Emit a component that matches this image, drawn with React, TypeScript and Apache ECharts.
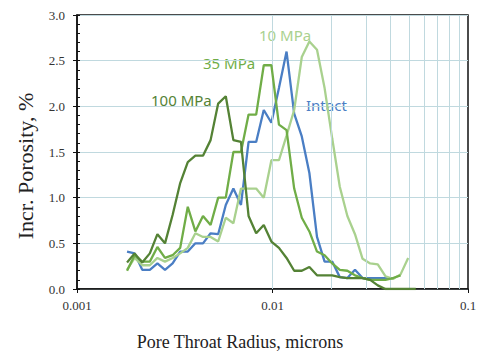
import React, { useEffect, useRef } from "react";
import * as echarts from "echarts";

// Pore throat radius bins (microns)
const radii = [
  0.001803, 0.001971, 0.002156, 0.002358, 0.002578, 0.002819, 0.003083, 0.003372,
  0.003687, 0.004032, 0.00441, 0.004823, 0.005274, 0.005768, 0.006308, 0.006898,
  0.007544, 0.00825, 0.009023, 0.009869, 0.01079, 0.0118, 0.01291, 0.01412,
  0.01544, 0.01689, 0.01847, 0.0202, 0.02209, 0.02415, 0.02642, 0.02889,
  0.0316, 0.03455, 0.03779, 0.04133, 0.04519, 0.04943, 0.05405,
];

const intact = [
  0.41, 0.39, 0.21, 0.21, 0.28, 0.21, 0.28, 0.41, 0.41, 0.5, 0.5, 0.61, 0.6,
  0.92, 1.1, 0.92, 1.61, 1.61, 1.96, 1.82, 2.2, 2.6, 1.92, 1.67, 1.27, 0.57,
  0.3, 0.3, 0.13, 0.12, 0.21, 0.12, 0.12, 0.12, 0.12, 0.12,
];

const mpa10 = [
  0.21, 0.34, 0.26, 0.26, 0.34, 0.3, 0.34, 0.39, 0.45, 0.61, 0.57, 0.57, 0.52,
  0.78, 0.72, 1.1, 1.1, 1.1, 1.0, 1.41, 1.41, 1.68, 1.96, 2.54, 2.71, 2.62,
  2.2, 1.65, 1.12, 0.8, 0.6, 0.33, 0.28, 0.27, 0.14, 0.11, 0.16, 0.34,
];

const mpa35 = [
  0.2, 0.37, 0.3, 0.3, 0.46, 0.34, 0.37, 0.45, 0.9, 0.63, 0.8, 0.7, 1.0, 1.0,
  1.5, 1.5, 1.91, 1.91, 2.45, 2.45, 1.8, 1.74, 1.1, 0.78, 0.63, 0.41, 0.37,
  0.28, 0.21, 0.2, 0.15, 0.12, 0.1, 0.1, 0.1, 0.12, 0.15,
];

const mpa100 = [
  0.29, 0.39, 0.29, 0.39, 0.6, 0.5, 0.81, 1.16, 1.39, 1.46, 1.46, 1.63, 2.03,
  2.11, 1.63, 1.61, 0.8, 0.61, 0.7, 0.52, 0.45, 0.34, 0.2, 0.2, 0.24, 0.15,
  0.15, 0.15, 0.13, 0.12, 0.12, 0.12, 0.1, 0.04, 0, 0, 0, 0, 0,
];

const seriesNames = ["Intact", "10 MPa", "35 MPa", "100 MPa"];
const seriesColors = ["#4a7ec4", "#a9d18e", "#70ad47", "#548235"];
const seriesValues = [intact, mpa10, mpa35, mpa100];

const xTickLabels = ["0.001", "0.01", "0.1"];
const xGridValues = [
  0.002, 0.003, 0.004, 0.005, 0.006, 0.007, 0.008, 0.009, 0.01,
  0.02, 0.03, 0.04, 0.05, 0.06, 0.07, 0.08, 0.09,
];

export default function App() {
  const ref = useRef<HTMLDivElement>(null);
  useEffect(() => {
    if (!ref.current) return;
    const chart = echarts.init(ref.current, null, { renderer: "svg" });
    const gridColor = "#c0d9df";
    const serif = "Liberation Serif";
    const sans = "Noto Sans";
    chart.setOption({
      animation: false,
      backgroundColor: "#ffffff",
      grid: {
        left: 77,
        right: 15,
        top: 15,
        bottom: 63,
        show: true,
        borderColor: "#111",
        borderWidth: 1.5,
      },
      xAxis: {
        type: "log",
        logBase: 10,
        min: 0.001,
        max: 0.1,
        axisLine: { show: true, lineStyle: { color: "#111", width: 1.5 } },
        axisTick: { show: true, length: 4, lineStyle: { color: "#111" } },
        splitLine: { show: false },
        axisLabel: {
          fontFamily: serif,
          fontSize: 13,
          color: "#333",
          margin: 10,
          formatter: (v: number) => xTickLabels[Math.round(Math.log10(v)) + 3],
        },
      },
      yAxis: [
        {
          type: "value",
          min: 0,
          max: 3,
          interval: 0.5,
          axisLine: { show: true, lineStyle: { color: "#111", width: 1.5 } },
          axisTick: { show: true, length: 4, lineStyle: { color: "#111" } },
          splitLine: { show: true, lineStyle: { color: gridColor, width: 1 } },
          axisLabel: {
            fontFamily: serif,
            fontSize: 13,
            color: "#333",
            margin: 12,
            formatter: (v: number) => v.toFixed(1),
          },
        },
        {
          type: "value",
          min: 0,
          max: 3,
          interval: 0.1,
          position: "left",
          axisLine: { show: false },
          axisTick: { show: true, inside: true, length: 3, lineStyle: { color: "#111" } },
          splitLine: { show: false },
          axisLabel: { show: false },
        },
      ],
      series: [
        {
          name: "grid",
          type: "line",
          data: [],
          z: 1,
          silent: true,
          markLine: {
            silent: true,
            symbol: "none",
            label: { show: false },
            lineStyle: { color: gridColor, width: 1, type: "solid" },
            data: xGridValues.map((v) => ({ xAxis: v })),
          },
        },
        ...seriesNames.map((name, si) => ({
          name,
          type: "line",
          z: 3 + si,
          showSymbol: false,
          symbol: "none",
          lineStyle: { color: seriesColors[si], width: 2.3 },
          itemStyle: { color: seriesColors[si] },
          data: seriesValues[si].map((y, i) => [radii[i], y]),
        })),
      ],
      graphic: [
        {
          type: "text",
          x: 151,
          y: 100,
          style: {
            text: "100 MPa",
            fill: seriesColors[3],
            font: `15px '${sans}'`,
            textVerticalAlign: "middle",
          },
        },
        {
          type: "text",
          x: 203,
          y: 63,
          style: {
            text: "35 MPa",
            fill: seriesColors[2],
            font: `15px '${sans}'`,
            textVerticalAlign: "middle",
          },
        },
        {
          type: "text",
          x: 259,
          y: 35,
          style: {
            text: "10 MPa",
            fill: seriesColors[1],
            font: `15px '${sans}'`,
            textVerticalAlign: "middle",
          },
        },
        {
          type: "text",
          x: 306,
          y: 105,
          style: {
            text: "Intact",
            fill: seriesColors[0],
            font: `15px '${sans}'`,
            textVerticalAlign: "middle",
          },
        },
        {
          type: "text",
          x: 25,
          y: 166,
          rotation: Math.PI / 2,
          style: {
            text: "Incr. Porosity, %",
            fill: "#222",
            font: `22px '${serif}'`,
            textAlign: "center",
            textVerticalAlign: "middle",
          },
        },
        {
          type: "text",
          x: 240,
          y: 342,
          style: {
            text: "Pore Throat Radius, microns",
            fill: "#222",
            font: `18px '${serif}'`,
            textAlign: "center",
            textVerticalAlign: "middle",
          },
        },
      ],
    });
    return () => chart.dispose();
  }, []);
  return (
    <div
      ref={ref}
      style={{ position: "fixed", left: 0, top: 0, width: 483, height: 352, background: "#fff" }}
    />
  );
}
